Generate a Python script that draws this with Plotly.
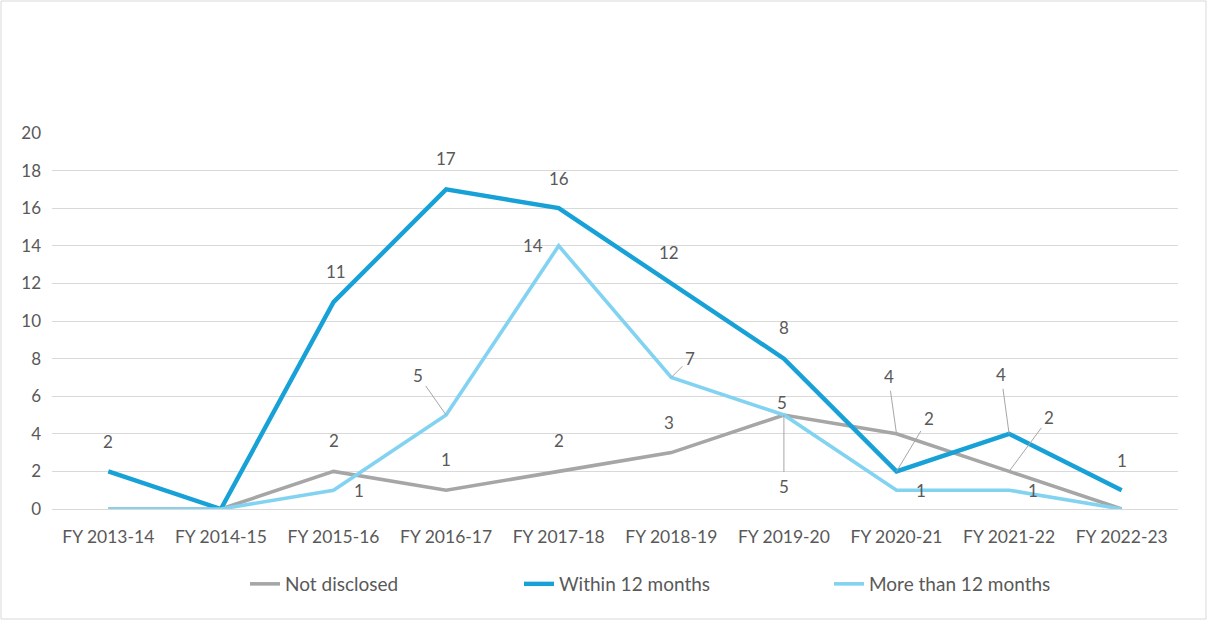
import plotly.graph_objects as go

# Fiscal years on the category axis
years = ["FY 2013-14", "FY 2014-15", "FY 2015-16", "FY 2016-17", "FY 2017-18",
         "FY 2018-19", "FY 2019-20", "FY 2020-21", "FY 2021-22", "FY 2022-23"]

# Counts per series
not_disclosed = [0, 0, 2, 1, 2, 3, 5, 4, 2, 0]
within_12 = [2, 0, 11, 17, 16, 12, 8, 2, 4, 1]
more_than_12 = [0, 0, 1, 5, 14, 7, 5, 1, 1, 0]

y_ticks = [0, 2, 4, 6, 8, 10, 12, 14, 16, 18, 20]

GREY = "#a6a6a6"
BLUE = "#17a1d7"
LIGHT = "#82d3f1"
TEXT = "#595959"
FONT = "Lato"

W, H = 1208, 621
ML, MR, MT, MB = 52, 30, 133, 112

fig = go.Figure()

series = [
    ("Not disclosed", not_disclosed, GREY, 3.6, "legend"),
    ("Within 12 months", within_12, BLUE, 4.4, "legend2"),
    ("More than 12 months", more_than_12, LIGHT, 3.6, "legend3"),
]
for name, vals, color, width, leg in series:
    fig.add_trace(go.Scatter(
        x=years, y=vals, name=name, mode="lines",
        line=dict(color=color, width=width),
        cliponaxis=False, legend=leg, hoverinfo="skip",
    ))

# Data label placement: (index, dx, dy, leader) in pixels relative to the point
label_layout = {
    "Not disclosed": [(2, 0, -31, False), (3, 0, -31, False), (4, 0, -31, False),
                      (5, -2, -30, False), (6, -2, -13, False),
                      (7, -8, -57, True), (8, 40, -54, True)],
    "Within 12 months": [(0, 0, -30, False), (2, 2, -31, False), (3, 0, -31, False),
                         (4, 0, -30, False), (5, -2, -31, False), (6, 0, -31, False),
                         (7, 32, -53, True), (8, -8, -59, True), (9, 0, -30, False)],
    "More than 12 months": [(2, 25, 0, False), (3, -28, -40, True), (4, -26, 0, False),
                            (5, 19, -19, True), (6, 0, 71, True),
                            (7, 24, 0, False), (8, 24, 0, False)],
}

annotations = []
for name, vals, color, width, leg in series:
    for idx, dx, dy, leader in label_layout[name]:
        ann = dict(x=years[idx], y=vals[idx], xref="x", yref="y",
                   text=str(vals[idx]),
                   font=dict(family=FONT, size=17, color=TEXT))
        if leader:
            ann.update(showarrow=True, ax=dx, ay=dy, arrowhead=0, arrowwidth=1,
                       arrowcolor=GREY, standoff=0, startstandoff=2)
        else:
            ann.update(showarrow=False, xshift=dx, yshift=-dy)
        annotations.append(ann)

plot_w = W - ML - MR
plot_h = H - MT - MB

# Thin frame around the whole chart
fig.add_shape(type="rect", xref="paper", yref="paper",
              x0=(1 - ML) / plot_w, x1=(W - 2 - ML) / plot_w,
              y0=-(MB - 2) / plot_h, y1=1 + (MT - 1) / plot_h,
              line=dict(color="#d9d9d9", width=1), layer="below")

legend_y = -(584 - (H - MB)) / plot_h
legend_style = dict(orientation="h", yanchor="middle", xanchor="left", y=legend_y,
                    font=dict(family=FONT, size=19, color=TEXT),
                    bgcolor="rgba(0,0,0,0)", itemwidth=30)

fig.update_layout(
    width=W, height=H,
    margin=dict(l=ML, r=MR, t=MT, b=MB),
    paper_bgcolor="white", plot_bgcolor="white",
    font=dict(family=FONT, color=TEXT),
    showlegend=True,
    legend=dict(legend_style, x=(245 - ML) / plot_w),
    legend2=dict(legend_style, x=(519 - ML) / plot_w),
    legend3=dict(legend_style, x=(829 - ML) / plot_w),
    annotations=annotations,
    xaxis=dict(type="category", range=[-0.5, len(years) - 0.5],
               showgrid=False, showline=False, zeroline=False, ticks="",
               tickfont=dict(family=FONT, size=17.5, color=TEXT),
               ticklabelstandoff=15, fixedrange=True),
    yaxis=dict(range=[0, 20], tickvals=y_ticks, showgrid=True,
               gridcolor="#d9d9d9", gridwidth=1, zeroline=True,
               zerolinecolor="#d9d9d9", zerolinewidth=1, showline=False,
               ticks="", tickfont=dict(family=FONT, size=17, color=TEXT),
               ticklabelstandoff=10, fixedrange=True),
)

fig.write_html("out.html", config={"displayModeBar": False})
